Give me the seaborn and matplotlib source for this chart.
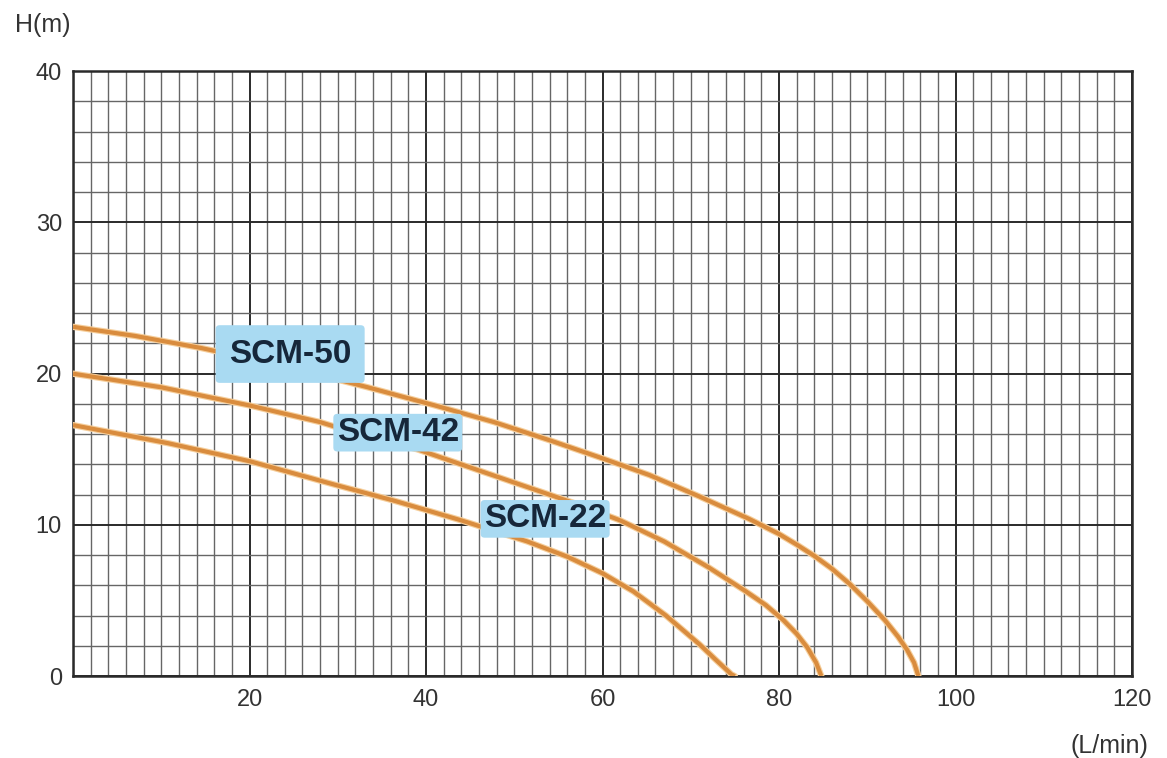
import numpy as np
import pandas as pd
import matplotlib
matplotlib.use("Agg")
import matplotlib.pyplot as plt
import seaborn as sns
from matplotlib.ticker import MultipleLocator

# ---- data ----
scm50_q = [0, 7, 14.5, 24, 33.4, 41, 47.7, 54, 60, 65.3, 70.9, 76.6, 80, 82, 84, 86, 88, 90, 92, 93.5, 94.5, 95.3, 95.8]
scm50_h = [23.1, 22.5, 21.7, 20.5, 19.1, 17.9, 16.8, 15.6, 14.4, 13.3, 11.9, 10.4, 9.4, 8.7, 7.95, 7.1, 6.1, 4.95, 3.7, 2.6, 1.75, 0.9, 0.0]

scm42_q = [0, 10, 20, 28, 33, 39, 48, 57, 62, 67, 72, 76, 78.5, 80.5, 82, 83.2, 84.2, 84.8]
scm42_h = [20.0, 19.1, 17.9, 16.8, 15.9, 15.0, 13.2, 11.4, 10.3, 8.9, 7.2, 5.7, 4.7, 3.7, 2.8, 1.9, 0.9, 0.0]

scm22_q = [0, 10.8, 20.1, 29.4, 36.4, 44, 51.5, 56, 60, 63.5, 67.2, 69, 71, 72.8, 74, 74.6, 75.0]
scm22_h = [16.6, 15.4, 14.2, 12.7, 11.6, 10.3, 8.9, 7.9, 6.8, 5.6, 4.0, 3.1, 2.1, 1.1, 0.45, 0.12, 0.0]

model_names = ["SCM-50", "SCM-42", "SCM-22"]
label_q = [24.6, 36.8, 53.5]
label_h = [21.3, 16.1, 10.4]
label_pads = [0.4, 0.1, 0.1]

x_ticks = [20, 40, 60, 80, 100, 120]
y_ticks = [0, 10, 20, 30, 40]

frames = []
for name, q, h in [("SCM-50", scm50_q, scm50_h), ("SCM-42", scm42_q, scm42_h), ("SCM-22", scm22_q, scm22_h)]:
    frames.append(pd.DataFrame({"Q": q, "H": h, "model": name}))
df = pd.concat(frames, ignore_index=True)

sns.set_theme(style="white")
plt.rcParams["font.family"] = ["Liberation Sans", "DejaVu Sans"]

fig = plt.figure(figsize=(11.67, 7.58), dpi=100)
ax = fig.add_axes([0.0626, 0.108, 0.9074, 0.798])

# grid
ax.set_xlim(0, 120)
ax.set_ylim(0, 40)
ax.xaxis.set_major_locator(MultipleLocator(20))
ax.xaxis.set_minor_locator(MultipleLocator(2))
ax.yaxis.set_major_locator(MultipleLocator(10))
ax.yaxis.set_minor_locator(MultipleLocator(2))
ax.grid(which="minor", color="#666666", linewidth=1.0)
ax.grid(which="major", color="#2a2a2a", linewidth=1.4)
ax.set_axisbelow(True)

palette = {m: "#F6CF9C" for m in model_names}
sns.lineplot(data=df, x="Q", y="H", hue="model", units="model", estimator=None,
             palette=palette, linewidth=4.6, legend=False, ax=ax, sort=False, zorder=3,
             solid_joinstyle="round", solid_capstyle="round")
palette2 = {m: "#D98C3E" for m in model_names}
sns.lineplot(data=df, x="Q", y="H", hue="model", units="model", estimator=None,
             palette=palette2, linewidth=3.0, legend=False, ax=ax, sort=False, zorder=4,
             solid_joinstyle="round", solid_capstyle="butt")

for name, lq, lh, pad in zip(model_names, label_q, label_h, label_pads):
    ax.text(lq, lh, name, ha="center", va="center", fontsize=24, fontweight="bold",
            color="#16273a", zorder=6,
            bbox=dict(boxstyle=f"round,pad={pad},rounding_size=0.12", facecolor="#A9DAF2",
                      edgecolor="none"))

ax.set_xticks(x_ticks)
ax.set_yticks(y_ticks)
ax.set_xticklabels([str(v) for v in x_ticks])
ax.set_yticklabels([str(v) for v in y_ticks])
ax.tick_params(axis="both", which="both", length=0, labelsize=17, colors="#333333")
ax.tick_params(axis="x", pad=9)
ax.tick_params(axis="y", pad=8)
ax.set_xlabel("")
ax.set_ylabel("")
for s in ax.spines.values():
    s.set_color("#2a2a2a")
    s.set_linewidth(1.8)
    s.set_visible(True)

fig.text(0.013, 0.967, "H(m)", fontsize=18, color="#333333", ha="left", va="center")
fig.text(0.984, 0.016, "(L/min)", fontsize=18, color="#333333", ha="right", va="center")

fig.savefig("out.png", dpi=100)
